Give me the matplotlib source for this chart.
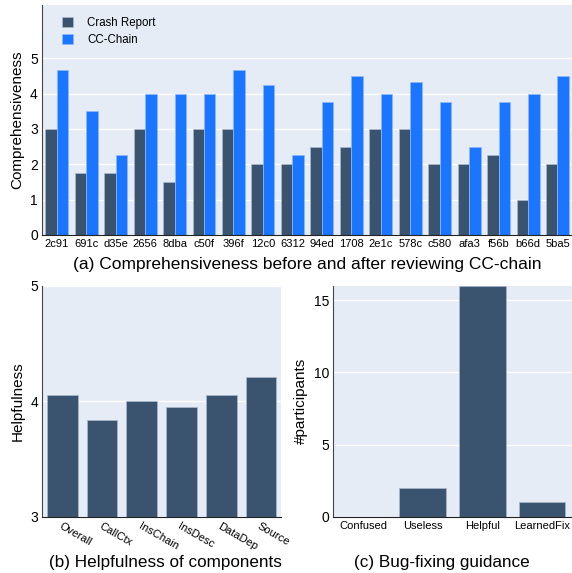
import numpy as np
import matplotlib
matplotlib.use('Agg')
import matplotlib.pyplot as plt

plt.rcParams['font.family'] = ['Liberation Sans', 'DejaVu Sans']

# (a) comprehensiveness per crash
crashes = ['2c91', '691c', 'd35e', '2656', '8dba', 'c50f', '396f', '12c0', '6312',
           '94ed', '1708', '2e1c', '578c', 'c580', 'afa3', 'f56b', 'b66d', '5ba5']
crash_report = [3, 1.75, 1.75, 3, 1.5, 3, 3, 2, 2, 2.5, 2.5, 3, 3, 2, 2, 2.25, 1, 2]
cc_chain = [4.67, 3.5, 2.25, 4, 4, 4, 4.67, 4.25, 2.25, 3.75, 4.5, 4, 4.33, 3.75, 2.5, 3.75, 4, 4.5]

# (b) helpfulness of components
components = ['Overall', 'CallCtx', 'InsChain', 'InsDesc', 'DataDep', 'Source']
helpfulness = [4.05, 3.84, 4.0, 3.95, 4.05, 4.21]

# (c) bug-fixing guidance
guidance = ['Confused', 'Useless', 'Helpful', 'LearnedFix']
participants = [0, 2, 16, 1]

dark = '#3a536e'
blue = '#1a75ff'
bg = '#e5ecf6'
edge = '#a9b8cc'


def style(ax):
    ax.set_facecolor(bg)
    ax.grid(axis='y', color='white', linewidth=1)
    ax.set_axisbelow(True)
    for s in ['top', 'right']:
        ax.spines[s].set_visible(False)
    ax.spines['left'].set_color('#444444')
    ax.spines['bottom'].set_color('#222222')
    ax.tick_params(length=0, pad=3, labelsize=10)


fig = plt.figure(figsize=(5.72, 5.73), dpi=100)

# top panel
ax1 = fig.add_axes([0.0734, 0.590, 0.927, 0.401])
style(ax1)
x = np.arange(len(crashes))
w = 0.39
ax1.bar(x - w / 2, crash_report, w, color=dark, edgecolor=edge, linewidth=0.5, label='Crash Report')
ax1.bar(x + w / 2, cc_chain, w, color=blue, edgecolor='#8fb8ff', linewidth=0.5, label='CC-Chain')
ax1.set_xlim(-0.5, len(crashes) - 0.5)
ax1.set_ylim(0, 6.5)
ax1.set_yticks([0, 1, 2, 3, 4, 5])
ax1.set_xticks(x)
ax1.set_xticklabels(crashes, fontsize=8)
ax1.set_ylabel('Comprehensiveness', fontsize=11)
ax1.legend(loc='upper left', bbox_to_anchor=(0.018, 0.995), frameon=False, fontsize=8.3,
           handlelength=1.0, handleheight=1.0, borderaxespad=0.4, labelspacing=0.45,
           handletextpad=1.2, borderpad=0.5)
fig.text(307.5 / 572, 1 - 264 / 573, '(a) Comprehensiveness before and after reviewing CC-chain',
         ha='center', va='center', fontsize=12.5)

# bottom left
ax2 = fig.add_axes([0.074, 0.0983, 0.417, 0.403])
style(ax2)
xb = np.arange(len(components))
ax2.bar(xb, helpfulness, 0.77, color=dark, edgecolor=edge, linewidth=0.5)
ax2.set_xlim(-0.5, len(components) - 0.5)
ax2.set_ylim(3, 5)
ax2.set_yticks([3, 4, 5])
ax2.set_xticks(xb)
ax2.set_xticklabels(components, rotation=-30, ha='left', rotation_mode='anchor', fontsize=8)
ax2.set_ylabel('Helpfulness', fontsize=11)
fig.text(165 / 572, 1 - 563 / 573, '(b) Helpfulness of components', ha='center', va='center', fontsize=12.3)

# bottom right
ax3 = fig.add_axes([0.5827, 0.0983, 0.417, 0.403])
style(ax3)
xc = np.arange(len(guidance))
ax3.bar(xc, participants, 0.78, color=dark, edgecolor=edge, linewidth=0.5)
ax3.set_xlim(-0.5, len(guidance) - 0.5)
ax3.set_ylim(0, 16)
ax3.set_yticks([0, 5, 10, 15])
ax3.set_xticks(xc)
ax3.set_xticklabels(guidance, fontsize=8)
ax3.set_ylabel('#participants', fontsize=11)
fig.text(442 / 572, 1 - 563 / 573, '(c) Bug-fixing guidance', ha='center', va='center', fontsize=12.3)

fig.savefig('out.png', dpi=100)
